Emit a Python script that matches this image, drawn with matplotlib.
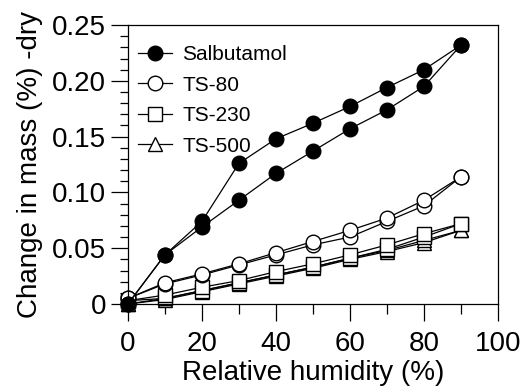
import numpy as np
import matplotlib.pyplot as plt
from matplotlib.ticker import MultipleLocator, FuncFormatter

plt.rcParams['font.family'] = ['Liberation Sans', 'DejaVu Sans']

# relative humidity steps (%)
rh = [0, 10, 20, 30, 40, 50, 60, 70, 80, 90]

# change in mass (%), sorption (lower) and desorption (upper) branches
salb_sorp = [0.0, 0.044, 0.069, 0.093, 0.117, 0.137, 0.157, 0.174, 0.195, 0.232]
salb_desorp = [0.0, 0.044, 0.074, 0.126, 0.148, 0.162, 0.177, 0.194, 0.210, 0.232]

ts80_sorp = [0.005, 0.018, 0.026, 0.035, 0.044, 0.053, 0.060, 0.074, 0.088, 0.114]
ts80_desorp = [0.005, 0.019, 0.027, 0.036, 0.046, 0.056, 0.066, 0.077, 0.093, 0.114]

ts230_sorp = [0.003, 0.005, 0.012, 0.019, 0.026, 0.033, 0.041, 0.049, 0.060, 0.072]
ts230_desorp = [0.003, 0.008, 0.015, 0.021, 0.029, 0.036, 0.044, 0.053, 0.063, 0.072]

ts500_sorp = [0.0, 0.004, 0.011, 0.018, 0.025, 0.032, 0.040, 0.047, 0.055, 0.066]
ts500_desorp = [0.0, 0.005, 0.012, 0.019, 0.026, 0.033, 0.041, 0.048, 0.057, 0.066]

series = [
    ('Salbutamol', salb_sorp, salb_desorp, 'o', 'black'),
    ('TS-80', ts80_sorp, ts80_desorp, 'o', 'white'),
    ('TS-230', ts230_sorp, ts230_desorp, 's', 'white'),
    ('TS-500', ts500_sorp, ts500_desorp, '^', 'white'),
]

fig = plt.figure(figsize=(5.22, 3.88), dpi=100)
ax = fig.add_axes([0.245, 0.2165, 0.709, 0.719])

# draw bottom series first so the filled markers sit on top
for name, sorp, desorp, mk, fc in reversed(series):
    ms = 10.5 if mk != '^' else 10
    for k, branch in enumerate([sorp, desorp]):
        ax.plot(rh, branch, marker=mk, color='black', markerfacecolor=fc,
                markeredgecolor='black', markeredgewidth=1.0, markersize=ms,
                linewidth=0.9, clip_on=False,
                label=name if k == 0 else None)

ax.set_xlim(0, 100)
ax.set_ylim(0, 0.25)

ax.xaxis.set_major_locator(MultipleLocator(20))
ax.xaxis.set_minor_locator(MultipleLocator(10))
ax.yaxis.set_major_locator(MultipleLocator(0.05))
ax.yaxis.set_minor_locator(MultipleLocator(0.01))
ax.yaxis.set_major_formatter(FuncFormatter(lambda v, p: '0' if abs(v) < 1e-9 else '%.2f' % v))

ax.tick_params(which='major', direction='out', length=12.5, width=0.9, labelsize=20)
ax.tick_params(axis='x', which='major', pad=7)
ax.tick_params(axis='y', which='major', pad=3)
ax.tick_params(axis='y', which='minor', direction='out', length=6, width=0.9)
ax.tick_params(axis='x', which='minor', direction='out', length=7, width=0.9)
for s in ax.spines.values():
    s.set_linewidth(0.9)

ax.set_xlabel('Relative humidity (%)', fontsize=20, labelpad=2)
ax.set_ylabel('Change in mass (%) -dry', fontsize=20, labelpad=7)

handles, labels = ax.get_legend_handles_labels()
ax.legend(handles[::-1], labels[::-1], loc='upper left', frameon=False,
          fontsize=15, handlelength=1.6, handletextpad=0.5, labelspacing=0.55,
          borderaxespad=0.5, bbox_to_anchor=(-0.022, 0.995))

fig.savefig('out.png', dpi=100)
